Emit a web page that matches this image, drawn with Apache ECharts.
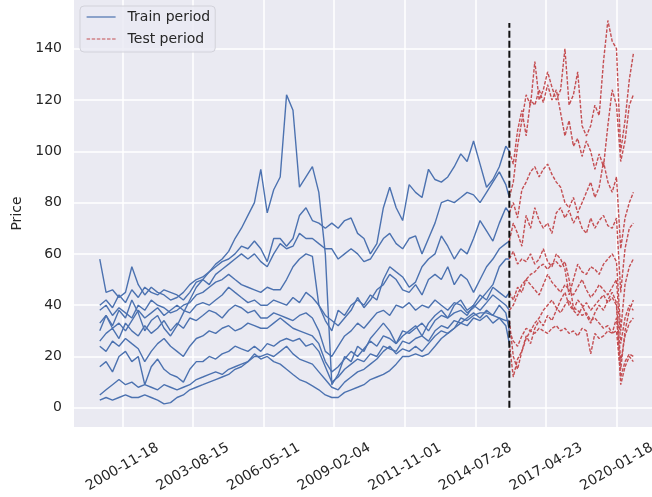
<!DOCTYPE html>
<html>
<head>
<meta charset="utf-8">
<script src="https://cdn.jsdelivr.net/npm/echarts@6/dist/echarts.min.js"></script>
<style>
  html, body { margin: 0; padding: 0; background: #fff; }
  #chart { width: 652px; height: 497px; }
</style>
</head>
<body>
<div id="chart"></div>
<script>
// quarterly samples for the train period, bi-monthly for the test period
var trainDates = ['2000-01-03','2000-04','2000-07','2000-10','2001-01','2001-04','2001-07','2001-10',
    '2002-01','2002-04','2002-07','2002-10','2003-01','2003-04','2003-07','2003-10',
    '2004-01','2004-04','2004-07','2004-10','2005-01','2005-04','2005-07','2005-10',
    '2006-01','2006-04','2006-07','2006-10','2007-01','2007-04','2007-07','2007-10',
    '2008-01','2008-04','2008-07','2008-10','2009-01','2009-04','2009-07','2009-10',
    '2010-01','2010-04','2010-07','2010-10','2011-01','2011-04','2011-07','2011-10',
    '2012-01','2012-04','2012-07','2012-10','2013-01','2013-04','2013-07','2013-10',
    '2014-01','2014-04','2014-07','2014-10','2015-01','2015-04','2015-07','2015-10','2015-11-20'];
var testDates = ['2015-11-20','2016-01-15','2016-03-15','2016-05-15','2016-07-15','2016-09-15','2016-11-15',
    '2017-01-15','2017-03-15','2017-05-15','2017-07-15','2017-09-15','2017-11-15',
    '2018-01-15','2018-03-15','2018-05-15','2018-07-15','2018-09-15','2018-11-15',
    '2019-01-15','2019-03-15','2019-05-15','2019-07-15','2019-09-15','2019-11-15',
    '2020-01-15','2020-03-15','2020-05-15','2020-07-15','2020-09-10'];

var trainA = [30,36,32,38,35,42,37,30,34,36,31,28,32,37,42,47, 50,53,56,58,61,66,70,75,80,93,76,85, 90,122,116,86,90,94,84,60, 9,13,20,18,24,22,27,30,33,30,25,28, 30,32,28,33,36,38,35,40,42,38,40,44,42,47,45,43, 45];
var trainB = [58,45,46,43,45,55,48,44,47,45,44,42,43,45,48,50, 51,53,55,57,58,60,63,62,65,62,57,66, 66,63,66,75,78,73,72,70, 72,70,73,74,68,66,60,64,78,86,78,73, 87,84,82,93,89,88,90,94,99,96,104,95,86,89,94,102, 100];
var trainC = [40,42,39,44,41,46,43,47,45,44,46,45,44,42,45,49, 50,48,52,54,56,58,60,58,60,57,55,60, 64,62,63,68,66,66,64,62, 62,58,60,62,60,57,58,62,66,68,64,62, 66,67,60,66,72,80,81,80,82,84,83,80,84,88,92,87, 82];
var trainD = [38,40,36,39,37,35,40,38,42,40,39,37,38,40,41,44, 45,47,49,50,52,50,48,47,46,45,47,46, 46,50,55,58,60,59,40,34, 30,38,36,40,42,40,44,42,50,55,53,51, 47,49,55,58,60,67,63,58,62,60,66,73,69,65,72,78, 76];
var trainE = [33,36,31,33,30,34,38,35,37,39,36,38,40,38,37,40, 41,40,42,44,47,45,43,41,42,40,40,42, 41,40,43,41,45,43,40,36, 34,32,35,38,43,39,42,46,48,52,50,46, 45,48,44,50,52,50,55,48,52,50,45,50,55,58,62,64, 65];
var trainF = [26,29,31,27,33,30,28,32,29,31,34,30,33,31,35,34, 36,38,37,35,38,40,39,37,38,35,35,37, 36,35,34,36,37,35,30,22, 20,24,28,30,33,31,34,37,38,36,40,39, 41,38,40,39,42,40,38,41,40,37,39,42,45,48,55,58, 58];
var trainG = [24,22,26,24,27,25,23,18,22,25,27,24,22,20,24,27, 28,30,29,31,32,30,31,33,32,31,31,33, 35,33,31,30,29,28,25,18, 14,16,19,22,20,23,26,24,28,27,25,30, 29,31,33,30,34,36,35,37,38,36,40,38,41,44,42,40, 38];
var trainH = [16,18,14,20,22,18,20,9,16,19,15,13,12,10,15,18, 18,20,19,21,22,24,23,22,24,22,25,24, 26,27,26,27,24,25,22,16, 10,12,15,17,19,18,21,20,24,23,22,26, 25,27,28,26,30,32,31,34,33,35,37,35,38,36,40,37, 30];
var trainI = [5,7,9,11,9,10,8,9,8,7,9,8,7,8,9,11, 12,13,14,13,15,16,17,18,20,20,21,20, 22,24,21,19,18,17,14,11, 8,7,10,12,14,15,17,19,22,24,21,23, 22,24,22,25,28,30,29,31,33,32,35,34,36,33,35,32, 25];
var trainJ = [3,4,3,4,5,4,4,5,4,3,1.5,2,4,5,7,8, 9,10,11,12,13,15,16,18,21,19,20,18, 17,15,13,11,10,8.5,7,5, 4,4,6,7,8,9,11,12,13,14.5,17,20, 20,21,20,21,24,27,29,31,35,34,36,37,37,36,35,34, 34];

var testA = [45,42,47,45,50,48,46,44,48,52,49,47,45,48,46,44,47,50,46,43,45,48,46,44,47,50,25,35,40,38];
var testB = [100,95,108,116,106,120,118,124,119,126,120,124,115,106,112,102,105,98,104,100,93,99,94,110,124,118,96,104,118,122];
var testC = [82,88,102,112,122,118,135,120,124,131,125,120,124,140,118,122,131,110,106,110,118,114,135,151,143,140,100,112,128,138];
var testD = [76,80,74,85,88,92,94,90,93,95,91,88,86,80,78,82,76,80,84,88,82,86,96,88,84,90,62,74,80,84];
var testE = [65,72,68,63,75,70,78,73,70,72,68,76,78,74,77,72,75,70,68,74,70,73,75,71,70,74,45,62,70,72];
var testF = [58,61,56,58,57,60,56,58,62,57,55,60,58,54,44,50,56,53,52,55,54,52,56,58,60,57,30,48,55,58];
var testG = [38,40,44,48,50,52,53,55,56,54,56,57,55,57,50,39,38,36,37,34,35,33,31,32,29,35,15,30,38,42];
var testH = [30,26,24,28,31,30,29,31,30,29,31,32,30,31,29,30,28,31,30,21,29,27,28,30,29,30,12,18,21,20];
var testI = [25,12,19,22,27,30,33,35,38,40,42,39,37,40,42,38,36,39,41,38,40,42,44,41,43,40,9,16,20,18];
var testJ = [34,20,15,22,28,25,31,34,32,36,34,38,42,45,40,38,42,40,36,33,37,40,38,42,45,41,18,28,33,35];

var splitDate = '2015-11-20';
var splitSpan = [0, 150];

var xTicks = ['2000-11-18','2003-08-15','2006-05-11','2009-02-04','2011-11-01','2014-07-28','2017-04-23','2020-01-18'];
var yTicks = [0, 20, 40, 60, 80, 100, 120, 140];
var xRange = ['1999-01-03', '2021-06-01'];
var yRange = [-7.5, 159];

function toTime(s) {
    var p = s.split('-').map(Number);
    return Date.UTC(p[0], p[1] - 1, p[2] || 1);
}
function pairs(dates, vals) {
    return vals.map(function (v, i) { return [toTime(dates[i]), v]; });
}

var blue = '#4C72B0', red = '#C44E52', ink = '#262626';
var font = 'DejaVu Sans';

var series = [];
[trainA, trainB, trainC, trainD, trainE, trainF, trainG, trainH, trainI, trainJ].forEach(function (arr) {
    series.push({
        name: 'Train period', type: 'line', data: pairs(trainDates, arr),
        symbol: 'none', silent: true,
        lineStyle: {color: blue, width: 1.4}, itemStyle: {color: blue}
    });
});
[testA, testB, testC, testD, testE, testF, testG, testH, testI, testJ].forEach(function (arr) {
    series.push({
        name: 'Test period', type: 'line', data: pairs(testDates, arr),
        symbol: 'none', silent: true,
        lineStyle: {color: red, width: 1.4, type: [3.5, 1.6]}, itemStyle: {color: red}
    });
});
series.push({
    name: 'split', type: 'line', silent: true, symbol: 'none', z: 5,
    data: [[toTime(splitDate), splitSpan[0]], [toTime(splitDate), splitSpan[1]]],
    lineStyle: {color: '#111', width: 2, type: [7, 3]}
});

var myChart = echarts.init(document.getElementById('chart'));
var option = {
    animation: false,
    textStyle: {fontFamily: font},
    grid: {
        left: 74, right: 0, top: 0, bottom: 70,
        show: true, backgroundColor: '#EAEAF2', borderWidth: 0,
        containLabel: false, outerBoundsMode: 'none'
    },
    legend: {
        data: ['Train period', 'Test period'],
        orient: 'vertical', left: 80, top: 6,
        itemWidth: 29, itemHeight: 14, itemGap: 8,
        padding: [4, 5, 6, 6],
        backgroundColor: 'rgba(234,234,242,0.8)',
        borderColor: '#d2d2da', borderWidth: 1, borderRadius: 4,
        itemStyle: {opacity: 0},
        lineStyle: {width: 1.2},
        textStyle: {fontSize: 14, color: ink, fontFamily: font, padding: [0, 0, 0, 7]}
    },
    xAxis: {
        type: 'value',
        min: toTime(xRange[0]), max: toTime(xRange[1]),
        axisLine: {show: false},
        axisTick: {show: false, customValues: xTicks.map(toTime)},
        splitLine: {show: true, lineStyle: {color: '#fff', width: 1.5}},
        axisLabel: {
            customValues: xTicks.map(toTime),
            formatter: function (v) { return new Date(v).toISOString().slice(0, 10); },
            rotate: 30, align: 'center', verticalAlign: 'middle', margin: 40,
            fontSize: 14, color: ink, fontFamily: font, hideOverlap: false
        }
    },
    yAxis: {
        type: 'value',
        min: yRange[0], max: yRange[1],
        name: 'Price', nameLocation: 'middle', nameGap: 47,
        nameTextStyle: {fontSize: 14, color: ink, fontFamily: font},
        axisLine: {show: false},
        axisTick: {show: false, customValues: yTicks},
        splitLine: {show: true, lineStyle: {color: '#fff', width: 1.5}},
        axisLabel: {customValues: yTicks, fontSize: 14, color: ink, fontFamily: font, margin: 12}
    },
    series: series
};
myChart.setOption(option);
</script>
</body>
</html>
